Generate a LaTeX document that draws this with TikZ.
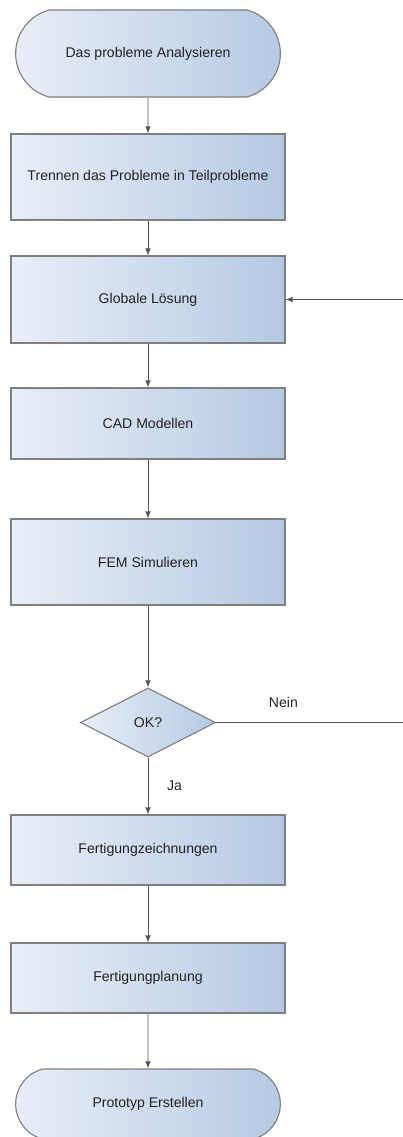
\documentclass[tikz,border=0pt]{standalone}
\usepackage{fontspec}
\setmainfont{Liberation Sans}
\usetikzlibrary{shapes.geometric,shapes.misc,arrows.meta}
\definecolor{rand}{HTML}{7F7F7F}
\definecolor{hell}{HTML}{E9EEF7}
\definecolor{dunkel}{HTML}{B5C9E3}
\definecolor{schrift}{HTML}{222222}
\definecolor{linie}{HTML}{555555}
\tikzset{
	kasten/.style={rectangle, draw=rand, line width=0.8pt, left color=hell, right color=dunkel,
		minimum width=6.85cm, text=schrift, font=\normalsize},
	ende/.style={kasten, rounded rectangle, rounded rectangle arc length=150},
	frage/.style={diamond, draw=rand, line width=0.8pt, left color=hell, right color=dunkel,
		minimum width=3.375cm, minimum height=1.725cm, inner sep=0pt, text=schrift},
	pfeil/.style={draw=linie, line width=0.6pt, -{Latex[length=5pt,width=4pt]}}
}
\begin{document}
\begin{tikzpicture}[x=0.025cm,y=-0.025cm]
		\useasboundingbox (0,0) rectangle (402,1137);
		% Start und Ende
		\node[ende, minimum height=2.175cm] (ana) at (148,53.5) {Das probleme Analysieren};
		\node[ende, minimum height=1.75cm] (proto) at (148,1104) {Prototyp Erstellen};
		% Schritte
		\foreach \n/\y/\h/\t in {tren/177/2.15/Trennen das Probleme in Teilprobleme,
			glob/299.5/2.175/Globale Lösung, cad/423.5/1.775/CAD Modellen,
			fem/562/2.15/FEM Simulieren, fzei/850/1.75/Fertigungzeichnungen,
			fpla/978/1.75/Fertigungplanung}
		\node[kasten, minimum height=\h cm] (\n) at (148,\y) {\t};
		% Entscheidung
		\node[frage] (ok) at (148,722.5) {OK?};
		% Pfeile
		\foreach \a/\b in {ana/tren,tren/glob,glob/cad,cad/fem,fem/ok,fzei/fpla,fpla/proto}
		\draw[pfeil] (\a) -- (\b);
		\draw[pfeil] (ok) -- node[right=10pt, text=schrift] {Ja} (fzei);
		% Rueckfuehrung : Nein
		\coordinate (zurueck) at (420,722.5);
		\draw[pfeil] (ok.east) -- node[above=7pt, pos=0.33, text=schrift] {Nein} (zurueck) |- (glob.east);
	\end{tikzpicture}
\end{document}
